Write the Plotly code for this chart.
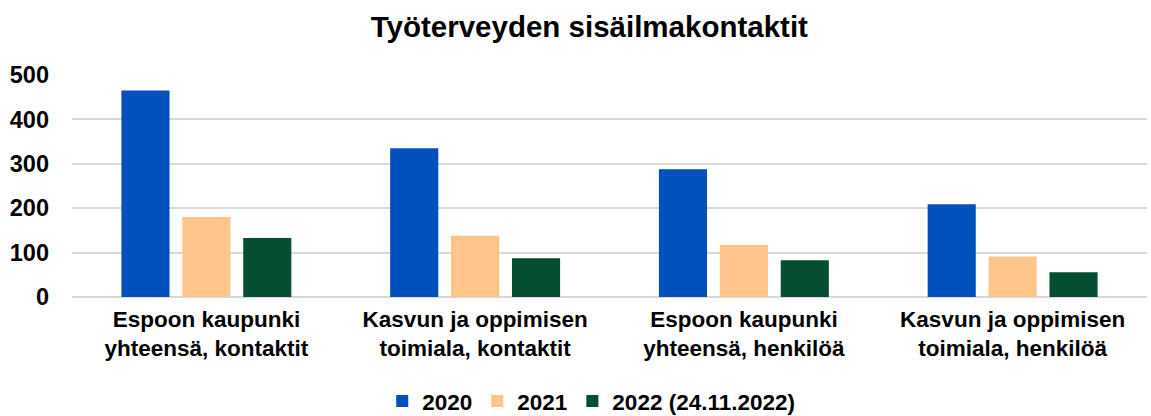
import plotly.graph_objects as go

categories = ["Espoon kaupunki<br>yhteensä, kontaktit",
              "Kasvun ja oppimisen<br>toimiala, kontaktit",
              "Espoon kaupunki<br>yhteensä, henkilöä",
              "Kasvun ja oppimisen<br>toimiala, henkilöä"]
series_names = ["2020", "2021", "2022 (24.11.2022)"]
v2020 = [465, 335, 288, 209]
v2021 = [180, 138, 117, 91]
v2022 = [133, 87, 83, 56]
colors = ["#0050BE", "#FFC489", "#034D30"]

fig = go.Figure()
for name, vals, c in zip(series_names, [v2020, v2021, v2022], colors):
    fig.add_trace(go.Bar(x=categories, y=vals, name=name, marker_color=c,
                         marker_line_width=0))

FAM = "Liberation Sans, Arial, sans-serif"
tick_font = dict(family=FAM, size=23.5, color="#000000", weight=700)
cat_font = dict(family=FAM, size=22.5, color="#000000", weight=700)
leg_font = dict(family=FAM, size=22.5, color="#000000", weight=700)
fig.update_layout(
    width=1151, height=416,
    paper_bgcolor="white", plot_bgcolor="white",
    title=dict(text="<b>Työterveyden sisäilmakontaktit</b>", x=0.512, xanchor="center",
               y=0.935, yanchor="middle",
               font=dict(family=FAM, size=29.5, color="#000000")),
    font=tick_font,
    margin=dict(l=72, r=4, t=75, b=119, autoexpand=False),
    barmode="group", bargap=0.32, bargroupgap=0.21,
    legend=dict(orientation="h", x=0.483, xanchor="center", y=-0.47, yanchor="middle",
                font=leg_font, traceorder="normal", itemwidth=30),
    showlegend=True,
)
fig.update_yaxes(range=[0, 500], dtick=100, showgrid=True, gridcolor="#D9D9D9", gridwidth=2,
                 zeroline=True, zerolinecolor="#D9D9D9", zerolinewidth=2,
                 tickfont=tick_font, ticks="", ticklabelstandoff=22)
fig.update_xaxes(showline=False, tickfont=cat_font, ticks="", ticklabelstandoff=6)

fig.write_html("out.html", config={"displayModeBar": False},
               post_script="document.body.style.margin='0';")
